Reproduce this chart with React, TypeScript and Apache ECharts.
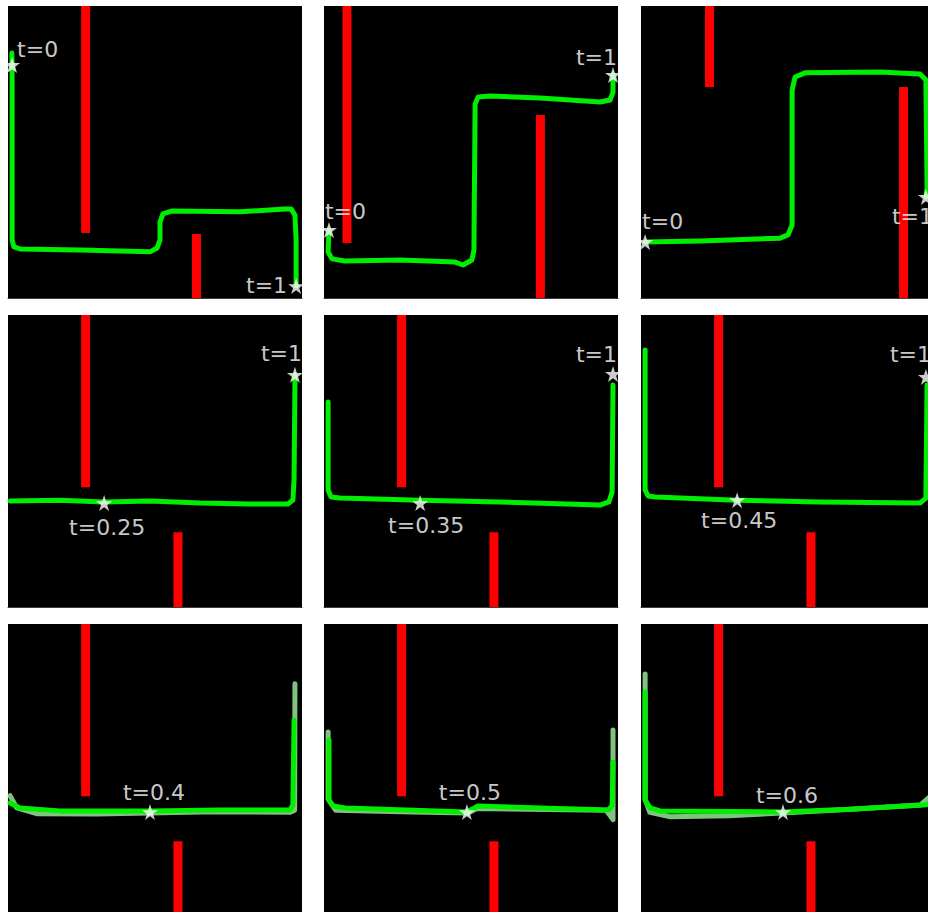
import React, { useEffect, useRef } from 'react';
import * as echarts from 'echarts';

type Pt = [number, number];
type Bar = [number, number, number]; // x, yLow, yHigh

// ---- obstacles (red walls) per panel: [x, yLow, yHigh] ----
const barsP1: Bar[] = [[0.264, 0.223, 1], [0.641, 0, 0.219]];
const barsP2: Bar[] = [[0.078, 0.188, 1], [0.736, 0, 0.627]];
const barsP3: Bar[] = [[0.233, 0.723, 1], [0.893, 0, 0.723]];
const barsLower: Bar[] = [[0.264, 0.41, 1], [0.578, 0, 0.256]];

// ---- trajectories ----
const pathP1: Pt[] = [
  [0.013, 0.839], [0.014, 0.798], [0.014, 0.199], [0.020, 0.175], [0.041, 0.168],
  [0.245, 0.164], [0.483, 0.158], [0.507, 0.171], [0.517, 0.199], [0.517, 0.260],
  [0.527, 0.288], [0.558, 0.298], [0.789, 0.295], [0.942, 0.305], [0.963, 0.305],
  [0.976, 0.284], [0.980, 0.199], [0.980, 0.041],
];
const pathP2: Pt[] = [
  [0.017, 0.233], [0.014, 0.158], [0.027, 0.134], [0.071, 0.127], [0.259, 0.130],
  [0.446, 0.123], [0.473, 0.113], [0.503, 0.130], [0.510, 0.164], [0.514, 0.664],
  [0.524, 0.688], [0.565, 0.692], [0.735, 0.685], [0.939, 0.671], [0.973, 0.678],
  [0.983, 0.705], [0.983, 0.764],
];
const pathP3: Pt[] = [
  [0.014, 0.192], [0.201, 0.195], [0.473, 0.205], [0.500, 0.216], [0.514, 0.250],
  [0.514, 0.712], [0.524, 0.757], [0.558, 0.771], [0.813, 0.774], [0.949, 0.767],
  [0.969, 0.747], [0.973, 0.377], [0.969, 0.346],
];
const pathP4: Pt[] = [
  [0.007, 0.363], [0.177, 0.366], [0.327, 0.360], [0.483, 0.363], [0.653, 0.356],
  [0.823, 0.353], [0.952, 0.353], [0.969, 0.366], [0.973, 0.435], [0.976, 0.771],
  [0.976, 0.795],
];
const pathP5: Pt[] = [
  [0.014, 0.702], [0.014, 0.401], [0.024, 0.377], [0.054, 0.373], [0.327, 0.366],
  [0.599, 0.360], [0.939, 0.349], [0.969, 0.360], [0.980, 0.394], [0.983, 0.760],
];
const pathP6: Pt[] = [
  [0.014, 0.880], [0.014, 0.401], [0.024, 0.380], [0.048, 0.377], [0.327, 0.366],
  [0.609, 0.360], [0.949, 0.356], [0.969, 0.373], [0.973, 0.760],
];
const pathP7: Pt[] = [
  [0.007, 0.387], [0.041, 0.370], [0.177, 0.360], [0.483, 0.360], [0.721, 0.363],
  [0.959, 0.363], [0.969, 0.380], [0.973, 0.671],
];
const ghostP7: Pt[] = [
  [0.007, 0.412], [0.030, 0.370], [0.100, 0.350], [0.300, 0.349], [0.480, 0.353],
  [0.700, 0.357], [0.960, 0.355], [0.975, 0.362], [0.976, 0.795],
];
const pathP8: Pt[] = [
  [0.017, 0.603], [0.017, 0.397], [0.031, 0.377], [0.071, 0.370], [0.486, 0.356],
  [0.524, 0.377], [0.735, 0.370], [0.966, 0.363], [0.980, 0.377], [0.983, 0.527],
];
const ghostP8: Pt[] = [
  [0.014, 0.630], [0.014, 0.400], [0.040, 0.362], [0.300, 0.356], [0.490, 0.353],
  [0.520, 0.368], [0.960, 0.362], [0.983, 0.330], [0.983, 0.637],
];
const pathP9: Pt[] = [
  [0.014, 0.767], [0.014, 0.397], [0.031, 0.370], [0.065, 0.360], [0.483, 0.356],
  [0.711, 0.366], [0.959, 0.380], [0.990, 0.384],
];
const ghostP9: Pt[] = [
  [0.014, 0.829], [0.014, 0.400], [0.030, 0.355], [0.100, 0.340], [0.300, 0.343],
  [0.480, 0.353], [0.700, 0.365], [0.950, 0.380], [0.995, 0.420], [0.995, 0.300],
];

// ---- annotated time stamps (stars) ----
const starsP1: Pt[] = [[0.014, 0.798], [0.980, 0.041]];
const starsP2: Pt[] = [[0.017, 0.233], [0.983, 0.764]];
const starsP3: Pt[] = [[0.014, 0.192], [0.969, 0.346]];
const starsP4: Pt[] = [[0.327, 0.356], [0.976, 0.795]];
const starsP5: Pt[] = [[0.327, 0.356], [0.983, 0.798]];
const starsP6: Pt[] = [[0.327, 0.366], [0.969, 0.788]];
const starsP7: Pt[] = [[0.483, 0.356]];
const starsP8: Pt[] = [[0.486, 0.356]];
const starsP9: Pt[] = [[0.483, 0.356]];

const labelsP1 = ['t=0', 't=1'];
const labelsP2 = ['t=0', 't=1'];
const labelsP3 = ['t=0', 't=1'];
const labelsP4 = ['t=0.25', 't=1'];
const labelsP5 = ['t=0.35', 't=1'];
const labelsP6 = ['t=0.45', 't=1'];
const labelsP7 = ['t=0.4'];
const labelsP8 = ['t=0.5'];
const labelsP9 = ['t=0.6'];

const panels = [
  { bars: barsP1, path: pathP1, ghost: null as Pt[] | null, stars: starsP1, labels: labelsP1 },
  { bars: barsP2, path: pathP2, ghost: null, stars: starsP2, labels: labelsP2 },
  { bars: barsP3, path: pathP3, ghost: null, stars: starsP3, labels: labelsP3 },
  { bars: barsLower, path: pathP4, ghost: null, stars: starsP4, labels: labelsP4 },
  { bars: barsLower, path: pathP5, ghost: null, stars: starsP5, labels: labelsP5 },
  { bars: barsLower, path: pathP6, ghost: null, stars: starsP6, labels: labelsP6 },
  { bars: barsLower, path: pathP7, ghost: ghostP7, stars: starsP7, labels: labelsP7 },
  { bars: barsLower, path: pathP8, ghost: ghostP8, stars: starsP8, labels: labelsP8 },
  { bars: barsLower, path: pathP9, ghost: ghostP9, stars: starsP9, labels: labelsP9 },
];

// ---- layout / style ----
const COL_LEFT = [8, 324, 641];
const ROW_TOP = [6, 315, 624];
const PANEL_W = 294;
const PANEL_H = 292;

const labelPlacement: { align: string; offset: [number, number] }[][] = [
  [{ align: 'left', offset: [5, -15] }, { align: 'right', offset: [-9, -1] }],
  [{ align: 'left', offset: [-4, -18] }, { align: 'right', offset: [4, -17] }],
  [{ align: 'left', offset: [-3, -20] }, { align: 'left', offset: [-34, 20] }],
  [{ align: 'center', offset: [3, 24] }, { align: 'right', offset: [7, -21] }],
  [{ align: 'center', offset: [6, 22] }, { align: 'right', offset: [4, -19] }],
  [{ align: 'center', offset: [2, 20] }, { align: 'left', offset: [-36, -22] }],
  [{ align: 'center', offset: [4, -20] }],
  [{ align: 'center', offset: [3, -20] }],
  [{ align: 'center', offset: [4, -17] }],
];

const STAR =
  'path://M50,0 L61.8,35.1 L98.9,35.1 L68.9,56.8 L80.3,91.9 L50,70.2 L19.7,91.9 L31.1,56.8 L1.1,35.1 L38.2,35.1 Z';

export default function App() {
  const ref = useRef<HTMLDivElement>(null);

  useEffect(() => {
    if (!ref.current) return;
    const chart = echarts.init(ref.current, undefined, { renderer: 'svg' });

    const grid: any[] = [];
    const xAxis: any[] = [];
    const yAxis: any[] = [];
    const series: any[] = [];

    panels.forEach((p, i) => {
      grid.push({
        left: COL_LEFT[i % 3],
        top: ROW_TOP[Math.floor(i / 3)],
        width: PANEL_W,
        height: PANEL_H,
        show: true,
        backgroundColor: '#000000',
        borderWidth: 0,
      });
      xAxis.push({
        gridIndex: i,
        type: 'value',
        min: 0,
        max: 1,
        axisLine: { show: true, onZero: false, lineStyle: { color: '#3c3c3c', width: 1 } },
        axisTick: { show: false },
        axisLabel: { show: false },
        splitLine: { show: false },
      });
      yAxis.push({ gridIndex: i, type: 'value', min: 0, max: 1, show: false });

      p.bars.forEach((b) => {
        series.push({
          type: 'line',
          xAxisIndex: i,
          yAxisIndex: i,
          data: [[b[0], b[1]], [b[0], b[2]]],
          symbol: 'none',
          silent: true,
          lineStyle: { color: '#ff0000', width: 9, cap: 'butt' },
          z: 2,
        });
      });

      if (p.ghost) {
        series.push({
          type: 'line',
          xAxisIndex: i,
          yAxisIndex: i,
          data: p.ghost,
          symbol: 'none',
          silent: true,
          lineStyle: { color: 'rgba(150,228,150,0.85)', width: 5, cap: 'round', join: 'round' },
          z: 3,
        });
      }

      series.push({
        type: 'line',
        xAxisIndex: i,
        yAxisIndex: i,
        data: p.path,
        symbol: 'none',
        silent: true,
        lineStyle: { color: '#00ee00', width: 5, cap: 'round', join: 'round' },
        z: 4,
      });

      series.push({
        type: 'scatter',
        xAxisIndex: i,
        yAxisIndex: i,
        symbol: STAR,
        symbolSize: 16,
        itemStyle: { color: '#ffffff' },
        z: 5,
        silent: true,
        data: p.stars.map((s, k) => ({
          value: s,
          name: p.labels[k],
          label: {
            show: true,
            formatter: '{b}',
            position: 'inside',
            align: labelPlacement[i][k].align,
            verticalAlign: 'middle',
            offset: labelPlacement[i][k].offset,
            color: '#ffffff',
            fontSize: 22,
            fontFamily: 'DejaVu Sans',
          },
        })),
      });
    });

    chart.setOption({
      animation: false,
      backgroundColor: '#ffffff',
      grid,
      xAxis,
      yAxis,
      series,
    });

    return () => chart.dispose();
  }, []);

  return (
    <div
      style={{
        position: 'absolute',
        left: 0,
        top: 0,
        width: 928,
        height: 912,
        overflow: 'hidden',
      }}
    >
      <div ref={ref} style={{ width: 944, height: 924 }} />
    </div>
  );
}
